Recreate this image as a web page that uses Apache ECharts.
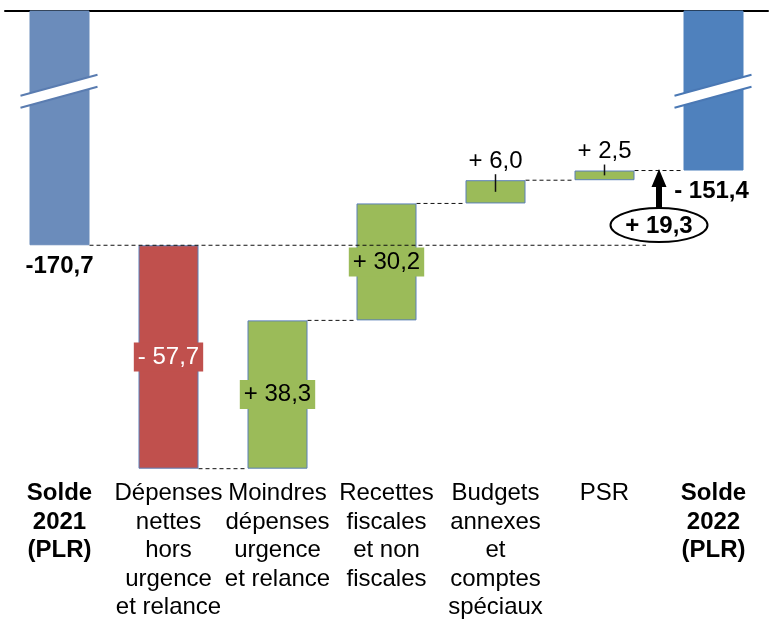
<!DOCTYPE html>
<html><head><meta charset="utf-8">
<script src="https://cdn.jsdelivr.net/npm/echarts@6/dist/echarts.min.js"></script>
<style>html,body{margin:0;padding:0;background:#fff}#c{width:770px;height:628px}</style>
</head><body><div id="c"></div>
<script>
// ---------- DATA ----------
const categories = [
  'Solde\n2021\n(PLR)',
  'Dépenses\nnettes\nhors\nurgence\net relance',
  'Moindres\ndépenses\nurgence\net relance',
  'Recettes\nfiscales\net non\nfiscales',
  'Budgets\nannexes\net\ncomptes\nspéciaux',
  'PSR',
  'Solde\n2022\n(PLR)'
];
const solde2021 = -170.7;
const solde2022 = -151.4;
const variations = [-57.7, 38.3, 30.2, 6.0, 2.5];
const totalVariation = 19.3;
const valueLabels = ['-170,7', '- 57,7', '+ 38,3', '+ 30,2', '+ 6,0', '+ 2,5', '- 151,4'];
const totalVariationLabel = '+ 19,3';

// ---------- STYLE / LAYOUT ----------
const FONT = '"Liberation Sans", Arial, sans-serif';
const FS = 24;
const BAR_W = 60;
const boldCats = [0, 6];
const barColors = ['#6b8cbb', '#c0504d', '#9bbb59', '#9bbb59', '#9bbb59', '#9bbb59', '#4f81bd'];
const breakColors = { 0: '#5a7cb0', 6: '#4a78b4' };
const labelPlacement = ['below', 'inside', 'inside', 'inside', 'above', 'above', 'below'];
const labelColors = ['#000', '#fff', '#000', '#000', '#000', '#000', '#000'];
const Y_MIN = -229, Y_MAX = -110.2;
const BREAK_AT = -130.9;        // where the axis-break marks sit
const ANNOT_Y = -165.5;         // vertical position of the ellipse annotation

// ---------- DERIVED (from data) ----------
const starts = [], ends = [];
starts.push(0); ends.push(solde2021);
let cum = solde2021;
variations.forEach(v => { starts.push(cum); cum = cum + v; ends.push(cum); });
starts.push(0); ends.push(solde2022);
const n = categories.length;
const baseVals = [], spanVals = [];
for (let i = 0; i < n; i++) {
  if (i === 0 || i === n - 1) { baseVals.push(0); spanVals.push(ends[i]); }
  else {
    const hi = Math.max(starts[i], ends[i]), lo = Math.min(starts[i], ends[i]);
    baseVals.push(hi); spanVals.push(lo - hi);
  }
}

const chart = echarts.init(document.getElementById('c'), null, { renderer: 'canvas' });

function line(x1, y1, x2, y2, style) {
  return { type: 'line', shape: { x1, y1, x2, y2 }, style };
}
const dashStyle = { stroke: '#111', lineWidth: 1, lineDash: [4, 3] };

// connectors: [fromIndex, level, toIndex] ; toIndex -1 => to annotation
const connectorData = [[0, solde2021, -1]];
for (let i = 1; i < n - 1; i++) connectorData.push([i, ends[i], i + 1]);

function annotX(api) {
  const a = api.coord([n - 2, 0])[0], b = api.coord([n - 1, 0])[0];
  return (a + b) / 2;
}

const option = {
  animation: false,
  backgroundColor: '#fff',
  grid: { left: 5, right: 2, top: 11, bottom: 157, containLabel: false },
  xAxis: [
    {
      type: 'category', position: 'bottom',
      data: categories.map((c, i) => ({ value: c, textStyle: boldCats.includes(i) ? { fontWeight: 'bold' } : {} })),
      axisLine: { show: false }, axisTick: { show: false }, splitLine: { show: false },
      axisLabel: { interval: 0, color: '#000', fontFamily: FONT, fontSize: FS, lineHeight: 28.6, margin: 8 }
    },
    {
      type: 'category', position: 'top', data: categories,
      axisLine: { show: true, lineStyle: { color: '#000', width: 2 } },
      axisTick: { show: false }, axisLabel: { show: false }, splitLine: { show: false }
    }
  ],
  yAxis: { type: 'value', min: Y_MIN, max: Y_MAX, show: false, splitLine: { show: false } },
  series: [
    {
      type: 'bar', stack: 'w', barWidth: BAR_W, silent: true, z: 2,
      itemStyle: { color: 'transparent' }, data: baseVals
    },
    {
      type: 'bar', stack: 'w', barWidth: BAR_W, z: 2, clip: true,
      data: spanVals.map((v, i) => ({ value: v, itemStyle: { color: barColors[i], borderColor: (i === 0 || i === n - 1) ? barColors[i] : '#5b7fb8', borderWidth: 1 } }))
    },
    {
      // dashed connectors
      type: 'custom', z: 3, silent: true,
      data: connectorData,
      encode: { x: 0, y: 1 },
      renderItem: function (params, api) {
        const i = api.value(0), lvl = api.value(1), to = api.value(2);
        const p = api.coord([i, lvl]);
        let x2;
        if (to < 0) x2 = annotX(api) - 13;
        else x2 = api.coord([to, lvl])[0] - BAR_W / 2;
        return line(p[0] + BAR_W / 2, p[1], x2, p[1], dashStyle);
      }
    },
    {
      // value labels
      type: 'custom', z: 4, silent: true,
      data: spanVals.map((v, i) => [i, baseVals[i], baseVals[i] + v]),
      encode: { x: 0, y: 1 },
      renderItem: function (params, api) {
        const i = api.value(0);
        const top = api.coord([i, api.value(1)]);
        const bot = api.coord([i, api.value(2)]);
        const cx = top[0];
        const yTop = Math.max(top[1], params.coordSys.y);
        const yBot = bot[1];
        const kind = labelPlacement[i];
        if (kind === 'below') {
          return { type: 'text', style: { x: cx - (i === n - 1 ? 2 : 0), y: yBot + 21, text: valueLabels[i], fill: '#000', font: 'bold ' + FS + 'px ' + FONT, align: 'center', verticalAlign: 'middle' } };
        }
        if (kind === 'inside') {
          return { type: 'text', style: { x: cx, y: (yTop + yBot) / 2, text: valueLabels[i], fill: labelColors[i], font: FS + 'px ' + FONT, align: 'center', verticalAlign: 'middle', backgroundColor: barColors[i], padding: [3, 4, 2, 4] } };
        }
        return {
          type: 'group', children: [
            { type: 'text', style: { x: cx, y: yTop - 19, text: valueLabels[i], fill: '#000', font: FS + 'px ' + FONT, align: 'center', verticalAlign: 'middle' } },
            line(cx, yTop - 6, cx, (yTop + yBot) / 2, { stroke: '#111', lineWidth: 1.5 })
          ]
        };
      }
    },
    {
      // axis-break marks on the total bars
      type: 'custom', z: 5, silent: true,
      data: [[0, BREAK_AT], [n - 1, BREAK_AT]],
      encode: { x: 0, y: 1 },
      renderItem: function (params, api) {
        const i = api.value(0);
        const p = api.coord([i, api.value(1)]);
        const cx = p[0], cy = p[1];
        const xl = cx - BAR_W / 2 - 9, xr = cx + BAR_W / 2 + 8;
        const slope = 21 / 77;
        const tl = cy - 6 + (cx - xl) * slope, tr = cy - 6 - (xr - cx) * slope;
        const col = breakColors[i];
        return {
          type: 'group', children: [
            { type: 'polygon', shape: { points: [[xl, tl], [xr, tr], [xr, tr + 12], [xl, tl + 12]] }, style: { fill: '#fff' } },
            line(xl, tl, xr, tr, { stroke: col, lineWidth: 2 }),
            line(xl, tl + 12, xr, tr + 12, { stroke: col, lineWidth: 2 })
          ]
        };
      }
    },
    {
      // total variation annotation (arrow + ellipse)
      type: 'custom', z: 6, silent: true,
      data: [[n - 1, solde2022, ANNOT_Y, totalVariation]],
      encode: { x: 0, y: 1 },
      renderItem: function (params, api) {
        const x = annotX(api);
        const tipY = api.coord([n - 1, api.value(1)])[1] - 1.5;
        const cy = api.coord([n - 1, api.value(2)])[1];
        const rx = 48.5, ry = 17;
        const headBase = tipY + 18;
        return {
          type: 'group', children: [
            { type: 'polygon', shape: { points: [[x, tipY], [x + 7.5, headBase], [x + 3, headBase], [x + 3, cy - ry + 1], [x - 3, cy - ry + 1], [x - 3, headBase], [x - 7.5, headBase]] }, style: { fill: '#000' } },
            { type: 'ellipse', shape: { cx: x, cy: cy, rx: rx, ry: ry }, style: { fill: '#fff', stroke: '#000', lineWidth: 2 } },
            { type: 'text', style: { x: x, y: cy + 1, text: totalVariationLabel, fill: '#000', font: 'bold ' + FS + 'px ' + FONT, align: 'center', verticalAlign: 'middle' } }
          ]
        };
      }
    }
  ]
};
chart.setOption(option);
</script>
</body></html>
